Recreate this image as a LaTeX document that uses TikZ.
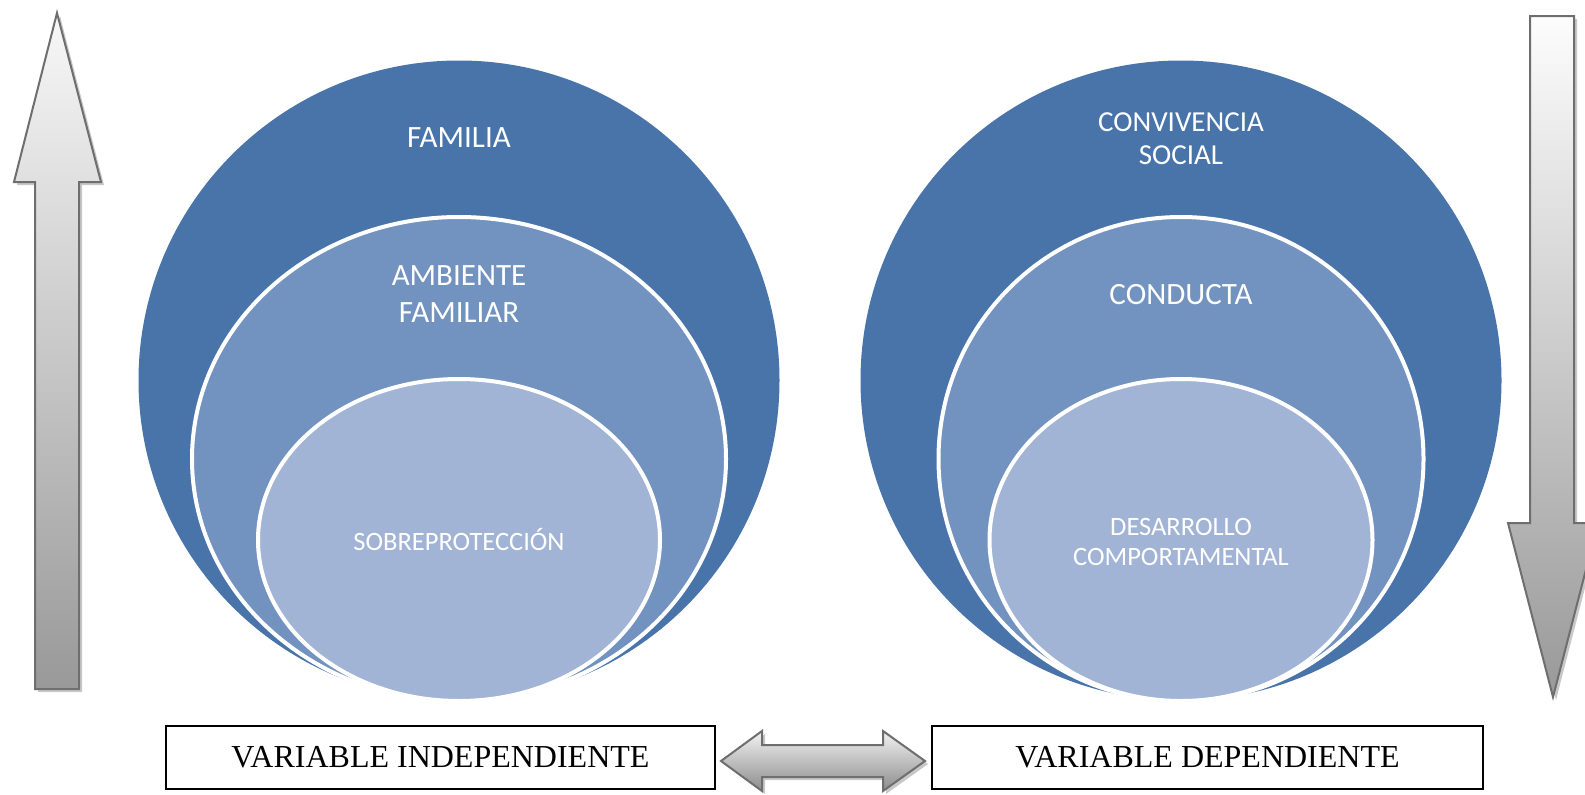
\documentclass[tikz,border=0pt]{standalone}
\usepackage{fontspec}
\setmainfont{Carlito}
\newfontfamily\tnr{Liberation Serif}
\usetikzlibrary{shapes.geometric}
\definecolor{outerblue}{HTML}{4874AA}
\definecolor{midblue}{HTML}{7292C0}
\definecolor{innerblue}{HTML}{A2B4D5}
\definecolor{arrline}{HTML}{6E6E6E}
\definecolor{shadowgray}{HTML}{C8C8C8}
\begin{document}
\begin{tikzpicture}[x=1pt,y=-1pt,
  outerc/.style={ellipse, fill=outerblue, inner sep=0pt, outer sep=0pt},
  midc/.style={ellipse, fill=midblue, draw=white, line width=4pt, inner sep=0pt, outer sep=0pt},
  innerc/.style={ellipse, fill=innerblue, draw=white, line width=4pt, inner sep=0pt, outer sep=0pt},
  lbl/.style={text=white, align=center, inner sep=0pt},
  varbox/.style={draw=black, line width=1.6pt, fill=white, minimum height=63pt, inner sep=0pt,
    font=\tnr\fontsize{32}{38}\selectfont},
  arrshape/.style={draw=arrline, line width=2pt, line join=miter},
  arrshadow/.style={fill=shadowgray}
]
\fill[white] (0,0) rectangle (1585,795);
\useasboundingbox (0,0) rectangle (1585,795);

% ---------- left set of circles ----------
\node[outerc, minimum width=641pt, minimum height=640pt] (fam) at (459,380.5) {};
\node[midc, minimum width=534pt, minimum height=484pt] (amb) at (459,459) {};
\node[innerc, minimum width=402pt, minimum height=322pt] (sob) at (459,540) {};

\node[lbl, font=\fontsize{31}{37}\selectfont] (tfam) at (459,138) {FAMILIA};
\node[lbl, font=\fontsize{31}{37}\selectfont] (tamb) at (459,294.5) {AMBIENTE\\FAMILIAR};
\node[lbl, font=\fontsize{26.5}{30}\selectfont, text height=17pt, text depth=0pt] (tsob) at (459,542) {SOBREPROTECCIÓN};

% ---------- right set of circles ----------
\node[outerc, minimum width=641pt, minimum height=640pt] (conv) at (1181,380.5) {};
\node[midc, minimum width=485pt, minimum height=484pt] (cond) at (1181,459) {};
\node[innerc, minimum width=383pt, minimum height=322pt] (des) at (1181,540) {};

\node[lbl, font=\fontsize{29}{33}\selectfont] (tconv) at (1181,138.5) {CONVIVENCIA\\SOCIAL};
\node[lbl, font=\fontsize{31}{37}\selectfont] (tcond) at (1181,295) {CONDUCTA};
\node[lbl, font=\fontsize{26.5}{30}\selectfont] (tdes) at (1181,542) {DESARROLLO\\COMPORTAMENTAL};

% ---------- left upward arrow ----------
\fill[arrshadow, shift={(3,3)}] (57,13) -- (101,182) -- (79,182) -- (79,689) -- (35,689) -- (35,182) -- (14,182) -- cycle;
\path[arrshape, top color=white!97!black, bottom color=black!40]
  (57,13) -- (101,182) -- (79,182) -- (79,689) -- (35,689) -- (35,182) -- (14,182) -- cycle;

% ---------- right downward arrow ----------
\fill[arrshadow, shift={(3,3)}] (1530,16) -- (1574,16) -- (1574,523) -- (1598,523) -- (1553,697) -- (1508,523) -- (1530,523) -- cycle;
\path[arrshape, top color=white!99!black, bottom color=black!40]
  (1530,16) -- (1574,16) -- (1574,523) -- (1598,523) -- (1553,697) -- (1508,523) -- (1530,523) -- cycle;

% ---------- boxes ----------
\node[varbox, minimum width=549pt] (vi) at (440.5,757.5) {VARIABLE INDEPENDIENTE};
\node[varbox, minimum width=551pt] (vd) at (1207.5,757.5) {VARIABLE DEPENDIENTE};

% ---------- double arrow between boxes ----------
\fill[arrshadow, shift={(3,3)}] (721,761) -- (762,731) -- (762,745) -- (883,745) -- (883,731) -- (925,761) -- (883,791) -- (883,777) -- (762,777) -- (762,791) -- cycle;
\path[arrshape, top color=white!95!black, bottom color=black!45]
  (721,761) -- (762,731) -- (762,745) -- (883,745) -- (883,731) -- (925,761) -- (883,791) -- (883,777) -- (762,777) -- (762,791) -- cycle;
\end{tikzpicture}
\end{document}
